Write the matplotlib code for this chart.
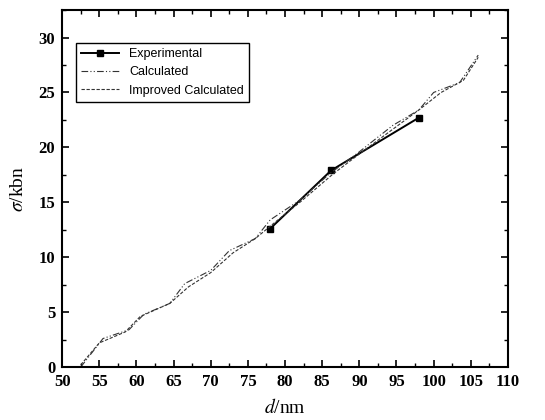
import matplotlib.pyplot as plt
from matplotlib.ticker import MultipleLocator

# experimental points
exp_d = [78.0, 86.2, 98.0]
exp_s = [12.6, 17.9, 22.7]

# calculated curve
calc_d = [52.5, 55.5, 59.0, 61.0, 64.5, 66.5, 70.0, 72.5, 76.0, 78.0, 82.0,
          86.0, 90.0, 94.5, 98.0, 100.0, 103.5, 106.0]
calc_s = [0.0, 2.6, 3.4, 4.8, 5.8, 7.6, 8.8, 10.6, 11.7, 13.4, 15.2,
          17.6, 19.6, 22.0, 23.4, 25.0, 25.9, 28.4]

# improved calculated curve
impr_d = [52.5, 55.0, 58.5, 60.5, 64.5, 67.0, 70.0, 73.0, 76.0, 78.5, 82.0,
          86.5, 90.0, 94.0, 98.0, 101.0, 104.0, 106.0]
impr_s = [0.2, 2.2, 3.2, 4.6, 5.8, 7.3, 8.6, 10.4, 11.7, 13.1, 15.0,
          17.6, 19.4, 21.4, 23.4, 25.0, 26.1, 28.2]

plt.rcParams["font.family"] = ["Liberation Serif", "DejaVu Serif"]
plt.rcParams["mathtext.fontset"] = "stix"

fig = plt.figure(figsize=(5.45, 4.2), dpi=100)
ax = fig.add_axes([0.114, 0.126, 0.818, 0.850])

ax.plot(exp_d, exp_s, color="black", lw=1.4, marker="s", ms=5,
        label="Experimental")
ax.plot(calc_d, calc_s, color="#333333", lw=0.8, ls=(0, (6, 2, 1, 2, 1, 2)),
        label="Calculated")
ax.plot(impr_d, impr_s, color="#333333", lw=0.8, ls=(0, (3, 1.5)),
        label="Improved Calculated")

ax.set_xlim(50, 110)
ax.set_ylim(0, 32.5)
ax.xaxis.set_major_locator(MultipleLocator(5))
ax.xaxis.set_minor_locator(MultipleLocator(2.5))
ax.yaxis.set_major_locator(MultipleLocator(5))
ax.yaxis.set_minor_locator(MultipleLocator(2.5))
ax.tick_params(which="both", direction="in", top=True, right=True)
ax.tick_params(which="major", length=5, width=1.2, labelsize=12, pad=5)
ax.tick_params(which="minor", length=3, width=1.0)
for lab in ax.get_xticklabels() + ax.get_yticklabels():
    lab.set_fontweight("bold")
for sp in ax.spines.values():
    sp.set_linewidth(1.5)

ax.set_xlabel("$d$/nm", fontsize=14, labelpad=6)
ax.set_ylabel("$\\sigma$/kbn", fontsize=14, labelpad=8)

leg = ax.legend(loc="upper left", bbox_to_anchor=(0.018, 0.925), fancybox=False,
                edgecolor="black", framealpha=1, handlelength=3,
                prop={"family": "Liberation Sans", "size": 9})
leg.get_frame().set_linewidth(1.0)

fig.savefig("out.png", dpi=100)
